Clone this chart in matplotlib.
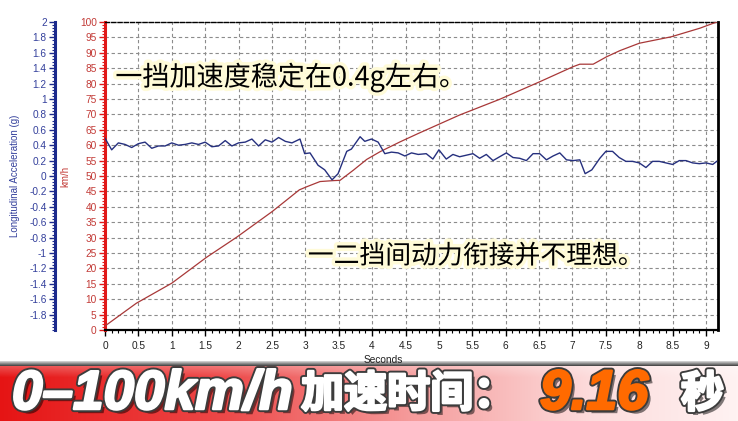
import numpy as np
import matplotlib
matplotlib.use("Agg")
import matplotlib.pyplot as plt
import matplotlib.patheffects as pe
from matplotlib.ticker import MultipleLocator, FixedLocator, FuncFormatter

# ---------------- data ----------------
t_g = [0.0, 0.1, 0.2, 0.3, 0.4, 0.5, 0.6, 0.7, 0.8, 0.9, 1.0, 1.1, 1.2, 1.3, 1.4,
       1.5, 1.6, 1.7, 1.8, 1.9, 2.0, 2.1, 2.2, 2.3, 2.4, 2.5, 2.6, 2.7, 2.8,
       2.92, 2.99, 3.07, 3.19, 3.29, 3.40, 3.49, 3.62, 3.69, 3.82, 3.89, 3.99,
       4.09, 4.19, 4.29, 4.39, 4.49, 4.59, 4.69,
       4.81, 4.91, 5.0, 5.11, 5.21, 5.31, 5.41, 5.51, 5.61, 5.71, 5.81, 5.91,
       6.01, 6.11, 6.21, 6.31, 6.41, 6.51, 6.61, 6.71, 6.81, 6.91, 7.01, 7.11,
       7.19, 7.29, 7.41, 7.50, 7.60, 7.70, 7.80, 7.90,
       8.0, 8.1, 8.2, 8.3, 8.4, 8.5, 8.6, 8.7, 8.8, 8.9, 9.0, 9.1, 9.16]
accel_g = [0.49, 0.34, 0.43, 0.41, 0.37, 0.42, 0.44, 0.36, 0.39, 0.39,
           0.43, 0.40, 0.41, 0.43, 0.41, 0.44, 0.38, 0.39, 0.46, 0.39,
           0.43, 0.44, 0.48, 0.39, 0.47, 0.44, 0.50, 0.45, 0.43,
           0.48, 0.29, 0.30, 0.14, 0.08, -0.05, 0.03, 0.32, 0.35, 0.51,
           0.45, 0.48, 0.44, 0.29, 0.31, 0.30, 0.26, 0.30, 0.28,
           0.29, 0.22, 0.34, 0.22, 0.28, 0.25, 0.27, 0.29, 0.23, 0.28,
           0.20, 0.25, 0.30, 0.24, 0.23, 0.20, 0.29, 0.29, 0.21, 0.26,
           0.30, 0.21, 0.20, 0.21, 0.03, 0.08, 0.23, 0.32, 0.32, 0.24,
           0.19, 0.19,
           0.17, 0.11, 0.19, 0.19, 0.17, 0.15, 0.20, 0.20, 0.17, 0.16,
           0.17, 0.15, 0.19]

t_v = [0, 0.47, 1.0, 1.52, 1.97, 2.5, 2.72, 2.91, 3.02, 3.22, 3.42, 3.52, 3.72,
       3.92, 4.12, 4.42, 4.69, 5.31, 5.91, 6.51, 7.01, 7.11, 7.31, 7.51, 7.71,
       8.0, 8.48, 8.91, 9.16]
speed_kmh = [1.3, 8.7, 15.2, 23.6, 30.1, 38.4, 42.2, 45.5, 46.5, 48.2, 48.5,
             48.6, 51.9, 55.4, 57.9, 61.1, 63.8, 69.8, 74.9, 80.6, 85.5, 86.3,
             86.3, 88.7, 90.7, 93.1, 95.2, 98.0, 100]

speed_ticks = list(range(0, 101, 5))
g_ticks = [round(-1.8 + 0.2 * i, 1) for i in range(20)]
x_ticks = [0, 0.5, 1, 1.5, 2, 2.5, 3, 3.5, 4, 4.5, 5, 5.5, 6, 6.5, 7, 7.5, 8, 8.5, 9]

note1 = "一挡加速度稳定在0.4g左右。"
note2 = "一二挡间动力衔接并不理想。"

# ---------------- figure ----------------
W, H = 738, 421
fig = plt.figure(figsize=(W / 100, H / 100), dpi=100)
fig.patch.set_facecolor("white")

RED = "#e01818"
RED_TXT = "#c23a36"
BLUE = "#1c2a8c"
BLUE_TXT = "#34409c"
TICKFONT = dict(family="Liberation Sans", size=7.3)

L, R, T, B = 105, 718, 22, 330
ax = fig.add_axes([L / W, 1 - B / H, (R - L) / W, (B - T) / H])
ax.set_zorder(2)
ax.set_xlim(0, (R - L) / 66.78)
ax.set_ylim(0, 100)

# grid
ax.set_xticks(x_ticks)
ax.set_yticks(speed_ticks)
ax.grid(True, which="major", linestyle=(0, (3, 2.5)), color="#8c8c8c", linewidth=0.8)
ax.set_axisbelow(True)

# speed line
ax.plot(t_v, speed_kmh, color="#a83838", linewidth=0.9, zorder=3)

# spines
ax.spines["left"].set_color(RED)
ax.spines["left"].set_linewidth(2.2)
ax.spines["bottom"].set_color("black")
ax.spines["bottom"].set_linewidth(1.6)
ax.spines["right"].set_color("black")
ax.spines["right"].set_linewidth(2.0)
ax.spines["top"].set_color("black")
ax.spines["top"].set_linewidth(1.0)
ax.spines["top"].set_linestyle((0, (3, 1.5)))

ax.xaxis.set_minor_locator(MultipleLocator(0.1))
ax.yaxis.set_minor_locator(MultipleLocator(1))
ax.tick_params(axis="y", which="major", direction="out", length=4, width=1,
               color=RED, labelcolor=RED_TXT, pad=2)
ax.tick_params(axis="y", which="minor", direction="out", length=2, width=0.8, color=RED)
ax.tick_params(axis="x", which="major", direction="out", length=4, width=1,
               color="black", labelcolor="#222222", pad=4)
ax.tick_params(axis="x", which="minor", direction="out", length=2, width=0.8, color="black")
for lab in ax.get_xticklabels() + ax.get_yticklabels():
    lab.set_fontfamily(TICKFONT["family"])
    lab.set_fontsize(TICKFONT["size"])
ax.xaxis.set_major_formatter(FuncFormatter(lambda v, p: f"{v:g}"))

ax.set_ylabel("km/h", color=RED_TXT, fontsize=7, family="Liberation Sans")
ax.yaxis.set_label_coords(-0.057, 0.5)
ax.set_xlabel("Seconds", color="#222222", fontsize=7.3, family="Liberation Sans")
ax.xaxis.set_label_coords(0.4535, -0.082)

# acceleration axis
ax2 = ax.twinx()
ax2.set_ylim(-2, 2)
ax2.plot(t_g, accel_g, color="#26307e", linewidth=1.0, zorder=4)
ax2.spines["right"].set_visible(False)
ax2.spines["top"].set_visible(False)
ax2.spines["bottom"].set_visible(False)
ax2.spines["left"].set_visible(True)
ax2.spines["left"].set_position(("outward", 36))
ax2.spines["left"].set_color(BLUE)
ax2.spines["left"].set_linewidth(2.2)
ax2.yaxis.tick_left()
ax2.yaxis.set_label_position("left")
ax2.yaxis.set_major_locator(FixedLocator(g_ticks))
ax2.yaxis.set_minor_locator(MultipleLocator(0.04))
ax2.yaxis.set_major_formatter(FuncFormatter(lambda v, p: f"{v:g}"))
ax2.tick_params(axis="y", which="major", direction="out", length=4, width=1,
                color=BLUE, labelcolor=BLUE_TXT, pad=2)
ax2.tick_params(axis="y", which="minor", direction="out", length=2, width=0.8, color=BLUE)
for lab in ax2.get_yticklabels():
    lab.set_fontfamily(TICKFONT["family"])
    lab.set_fontsize(TICKFONT["size"])
ax2.set_ylabel("Longitudinal Acceleration (g)", color=BLUE_TXT, fontsize=7,
               family="Liberation Sans")
ax2.yaxis.set_label_coords(-0.138, 0.5)

# annotations
glow = [pe.withStroke(linewidth=5, foreground="#fffbd8")]
cjk = ["Noto Sans CJK SC", "DejaVu Sans"]
fig.text(291 / W, 1 - 77 / H, note1, fontsize=19.5, family=cjk, color="black",
         ha="center", va="center", path_effects=glow, zorder=10)
fig.text(476 / W, 1 - 256 / H, note2, fontsize=18.6, family=cjk, color="black",
         ha="center", va="center", path_effects=glow, zorder=10)

# ---------------- banner ----------------
strip = fig.add_axes([0, 55 / H, 1, 5 / H])
strip.set_zorder(1)
sg = np.linspace(0, 1, 6)[:, None, None]
top_c = np.array([0.93, 0.93, 0.93])
bot_c = np.array([0.30, 0.30, 0.30])
strip_img = (1 - sg) * bot_c + sg * top_c
strip_img = np.repeat(strip_img, 4, axis=1)
strip.imshow(strip_img, aspect="auto", origin="lower", extent=[0, W, 0, 5])
strip.set_axis_off()

bn = fig.add_axes([0, 0, 1, 55 / H])
bn.set_zorder(1)
xs = np.linspace(0, 1, 400)
stops_x = [0.0, 0.3, 0.55, 0.8, 1.0]
stops_c = [(0.90, 0.08, 0.08), (0.93, 0.28, 0.28), (0.96, 0.60, 0.60),
           (0.99, 0.86, 0.86), (1.0, 0.95, 0.95)]
row = np.stack([np.interp(xs, stops_x, [c[i] for c in stops_c]) for i in range(3)], axis=-1)
ys = np.linspace(0, 1, 55)[:, None, None]
light = np.clip((ys - 0.8) / 0.2, 0, 1) * 0.25
img = row[None, :, :] * (1 - light) + light
bn.imshow(img, aspect="auto", origin="lower", extent=[0, W, 0, 55])
bn.set_xlim(0, W)
bn.set_ylim(0, 55)
bn.set_axis_off()


def heavy(fill):
    return [pe.withSimplePatchShadow(offset=(3, -3), shadow_rgbFace="black", alpha=0.5),
            pe.Stroke(linewidth=4.5, foreground="#3c3c3c"),
            pe.Stroke(linewidth=1.8, foreground=fill), pe.Normal()]


yc = 26
bn.text(12, yc, "0–100km/h", fontsize=39.5, family="Liberation Sans", weight="bold",
        style="italic", color="white", ha="left", va="center", path_effects=heavy("white"))
bn.text(301, yc + 1, "加速时间：", fontsize=31, family=["Noto Sans CJK SC"], weight="bold",
        color="white", ha="left", va="center", path_effects=heavy("white"))
bn.text(540, yc, "9.16", fontsize=40, family="Liberation Sans", weight="bold",
        style="italic", color="#ff6a00", ha="left", va="center", path_effects=heavy("#ff6a00"))
bn.text(681, yc + 1, "秒", fontsize=31, family=["Noto Sans CJK SC"], weight="bold",
        color="white", ha="left", va="center", path_effects=heavy("white"))

fig.savefig("out.png", dpi=100, facecolor="white")
